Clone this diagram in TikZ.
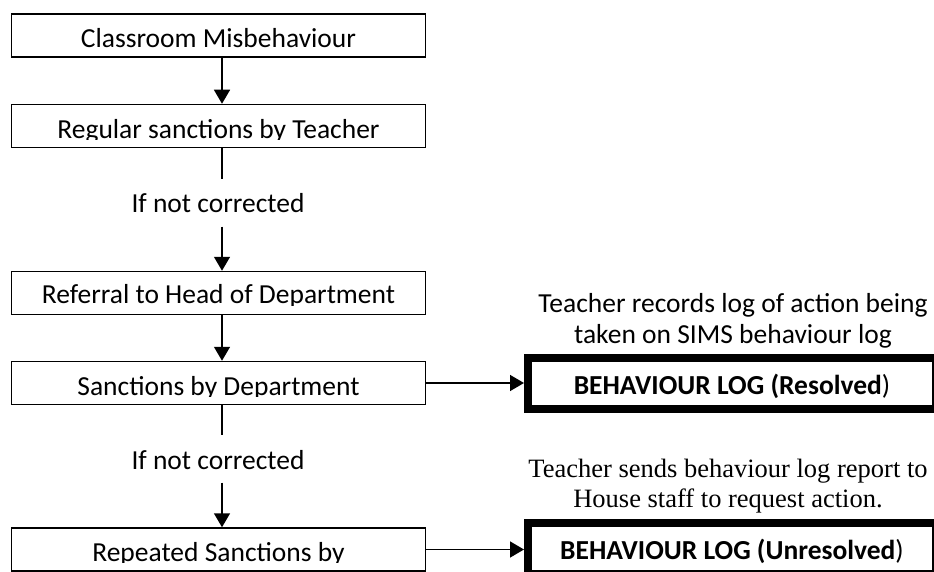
\documentclass[tikz,border=0pt]{standalone}
\usepackage{fontspec}
\setmainfont{Carlito}
\newfontfamily\timesfont{Liberation Serif}
\usetikzlibrary{arrows.meta}
\begin{document}
\begin{tikzpicture}[x=1pt,y=-1pt,
  flowbox/.style={draw, line width=1.5pt, minimum width=414pt, minimum height=43pt, inner sep=0pt},
  logbox/.style={draw, line width=8pt, minimum width=408pt, minimum height=51pt, inner sep=0pt},
  boxtext/.style={anchor=base, inner sep=0pt, font=\fontsize{27.5}{32}\selectfont},
  condtext/.style={anchor=base, inner xsep=2pt, inner ysep=13.5pt, text height=20.5pt, text depth=0pt, font=\fontsize{27.5}{32}\selectfont},
  notetext/.style={anchor=base, inner sep=0pt, align=center, font=\fontsize{27.5}{31}\selectfont},
  serifnote/.style={anchor=base, inner sep=0pt, align=center, font=\timesfont\fontsize{26.5}{30}\selectfont},
  flowline/.style={line width=1.5pt},
  flowarrow/.style={line width=1.5pt, -{Triangle[length=14pt,width=16pt]}}
]
\useasboundingbox (0,0) rectangle (934,572);
\clip (0,0) rectangle (934,572);

% left flow boxes
\node[flowbox] (b1) at (218.5,35.5) {};
\node[flowbox] (b2) at (218.5,126) {};
\node[flowbox] (b3) at (218.5,293) {};
\node[flowbox] (b4) at (218.5,383) {};
\node[flowbox] (b5) at (218.5,549.5) {};

\begin{scope}\clip (11,14) rectangle (426,49.5);
\node[boxtext] (b1t) at (218.5,48) {Classroom Misbehaviour};
\end{scope}
\begin{scope}\clip (11,104) rectangle (426,140);
\node[boxtext] (b2t) at (218.5,138.5) {Regular sanctions by Teacher};
\end{scope}
\begin{scope}\clip (11,271) rectangle (426,305);
\node[boxtext] (b3t) at (218.5,303.5) {Referral to Head of Department};
\end{scope}
\begin{scope}\clip (11,361) rectangle (426,396.5);
\node[boxtext] (b4t) at (218.5,395) {Sanctions by Department};
\end{scope}
\begin{scope}\clip (11,528) rectangle (426,562.5);
\node[boxtext] (b5t) at (218.5,561) {Repeated Sanctions by};
\end{scope}

% condition labels
\node[condtext] (l1) at (218,213) {If not corrected};
\node[condtext] (l2) at (218,469) {If not corrected};

% right log boxes
\node[logbox] (r1) at (732,383.5) {};
\node[logbox] (r2) at (732,548.5) {};
\node[boxtext] (r1t) at (732,394) {\textbf{BEHAVIOUR LOG (Resolved})};
\node[boxtext] (r2t) at (732,559.5) {\textbf{BEHAVIOUR LOG (Unresolved})};

% notes (anchor=base is the last line's baseline)
\node[notetext] (t1) at (733,343) {Teacher records log of action being\\taken on SIMS behaviour log};
\node[serifnote] (t2) at (728,507) {Teacher sends behaviour log report to\\House staff to request action.};

% connectors
\draw[flowarrow] ([xshift=3.5pt]b1.south) -- ([xshift=3.5pt]b2.north);
\draw[flowline] ([xshift=3.5pt]b2.south) -- ([xshift=3.5pt]b2.south |- l1.north);
\draw[flowarrow] ([xshift=3.5pt]b3.north |- l1.south) -- ([xshift=3.5pt]b3.north);
\draw[flowarrow] ([xshift=3.5pt]b3.south) -- ([xshift=3.5pt]b4.north);
\draw[flowline] ([xshift=3.5pt]b4.south) -- ([xshift=3.5pt]b4.south |- l2.north);
\draw[flowarrow] ([xshift=3.5pt]b5.north |- l2.south) -- ([xshift=3.5pt]b5.north);
\draw[flowarrow] (b4.east) -- (b4.east -| r1.west);
\draw[flowarrow] (b5.east) -- (b5.east -| r2.west);
\end{tikzpicture}
\end{document}
